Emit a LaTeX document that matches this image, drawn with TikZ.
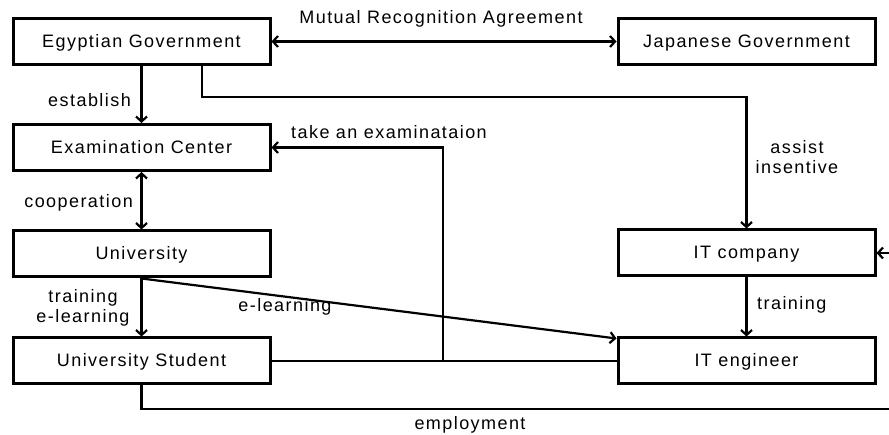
\documentclass[tikz,border=0pt]{standalone}
\usepackage{fontspec}
\setmainfont{Liberation Sans}[LetterSpace=8]
\usetikzlibrary{arrows.meta,calc}
\begin{document}
\begin{tikzpicture}[x=1pt,y=-1pt,
  font=\fontsize{18}{20}\selectfont,
  box/.style={draw,line width=3pt,minimum width=257pt,minimum height=46pt,inner sep=0pt,
    text height=12pt,text depth=0pt},
  conn/.style={line width=2.2pt,arrows={-Straight Barb[length=5pt,width=11pt,line width=2.2pt]}},
  dconn/.style={line width=2.2pt,arrows={Straight Barb[length=5pt,width=11pt,line width=2.2pt]-Straight Barb[length=5pt,width=11pt,line width=2.2pt]}},
  plain/.style={line width=2.2pt},
  lbl/.style={inner sep=0pt,align=center}]
\useasboundingbox (0,0) rectangle (889,435);
\clip (0,0) rectangle (889,435);

% organisations
\node[box] (EG) at (141.5,41.5) {Egyptian Government};
\node[box] (JG) at (746.5,41.5) {Japanese Government};
\node[box] (EC) at (141.5,147.5) {Examination Center};
\node[box] (UN) at (141.5,254) {University};
\node[box] (US) at (141.5,361) {University Student};
\node[box] (IC) at (746.5,253) {IT company};
\node[box] (IE) at (746.5,361) {IT engineer};

% helper points
\coordinate (gov) at (202,41.5);
\coordinate (govturn) at (202,97);
\coordinate (exam) at (443,361);
\coordinate (emp1) at (141.5,409);
\coordinate (emp2) at (900,409);
\coordinate (emp3) at (900,253);
\coordinate (eltip) at ($(IE.north west)+(0,2)$);

% connectors
\draw[dconn] (EG.east) -- (JG.west);
\draw[conn] (EG.south) -- (EC.north);
\draw[dconn] (EC.south) -- (UN.north);
\draw[conn] (UN.south) -- (US.north);
\draw[conn] (gov |- EG.south) -- (govturn) -| (IC.north);
\draw[conn] (IC.south) -- (IE.north);
\draw[conn] (UN.south) -- (eltip);
\draw[plain] (US.east) -- (IE.west);
\draw[conn] (exam) |- (EC.east);
\draw[conn] (US.south) -- (emp1) -- (emp2) -- (emp3) -- (IC.east);

% labels
\node[lbl] (lmra) at (441,19) {Mutual Recognition Agreement};
\node[lbl,anchor=east] (lest) at (131,100) {establish};
\node[lbl,anchor=east] (lcoop) at (133,203) {cooperation};
\node[lbl] (ltrel) at (83,308) {training\\e-learning};
\node[lbl,anchor=west] (ltake) at (291,132) {take an examinataion};
\node[lbl] (lassist) at (797,157) {assist\\insentive};
\node[lbl] (lel) at (285,307) {e-learning};
\node[lbl,anchor=west] (ltr) at (757,305) {training};
\node[lbl] (lemp) at (470,425) {employment};
\end{tikzpicture}
\end{document}
